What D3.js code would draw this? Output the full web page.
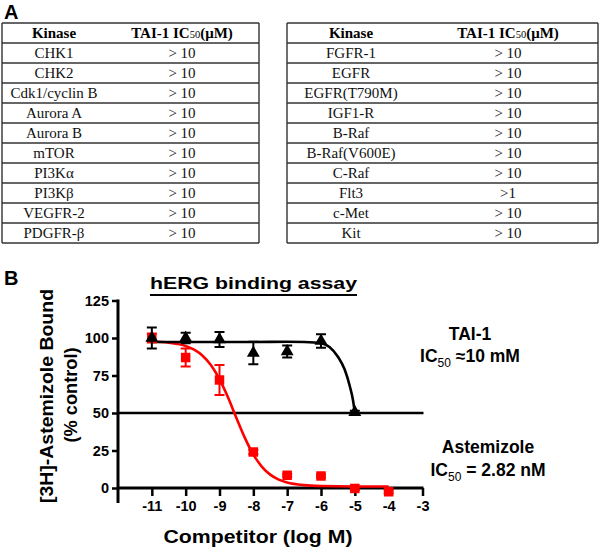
<!DOCTYPE html>
<html><head><meta charset="utf-8">
<script src="https://cdn.jsdelivr.net/npm/d3@7"></script>
<style>body{margin:0;background:#fff}svg{display:block}</style>
</head><body>
<svg id="c" width="600" height="550"></svg>
<script>
// ---------- DATA ----------
const kinasesLeft = ["CHK1","CHK2","Cdk1/cyclin B","Aurora A","Aurora B","mTOR","PI3Kα","PI3Kβ","VEGFR-2","PDGFR-β"];
const ic50Left = ["> 10","> 10","> 10","> 10","> 10","> 10","> 10","> 10","> 10","> 10"];
const kinasesRight = ["FGFR-1","EGFR","EGFR(T790M)","IGF1-R","B-Raf","B-Raf(V600E)","C-Raf","Flt3","c-Met","Kit"];
const ic50Right = ["> 10","> 10","> 10","> 10","> 10","> 10","> 10",">1","> 10","> 10"];

const xTicks = [-11,-10,-9,-8,-7,-6,-5,-4,-3];
const yTicks = [0,25,50,75,100,125];

const taiX = [-11,-10,-9,-8,-7,-6,-5];
const taiY = [100,100,99,90,91,98,50.5];
const taiErr = [7,3.5,5,7.5,4,4.5,1];
const astX = [-11,-10,-9,-8,-7,-6,-5,-4];
const astY = [100,87,72,24,8.5,8,-0.3,-2.5];
const astErr = [3,6,10,1.5,1,1,1,1];

// fitted curves
const taiFitX = [-11,-10,-9,-8,-7,-6.5,-6,-5.75,-5.5,-5.3,-5.15,-5.05,-5];
const taiFitY = [97.3,97.3,97.3,97.3,97.5,97.3,96.5,94,87.5,79,68,58,50];
const astFitX = [-11,-10.5,-10,-9.75,-9.5,-9.25,-9,-8.75,-8.5,-8.25,-8,-7.75,-7.5,-7.25,-7,-6.5,-6,-5,-4];
const astFitY = [97.7,96.9,94.7,92.2,88.2,81.9,72.6,60.5,46.7,33.4,22.3,14.3,8.9,5.6,3.7,1.9,1.3,1.0,1.0];

// ---------- DRAW ----------
const svg = d3.select("#c");
const sans = "'Liberation Sans', Arial, sans-serif";
const serif = "'Liberation Serif', 'Times New Roman', serif";

// Panel labels
svg.append("text").attr("x",4).attr("y",19).attr("font-family",sans).attr("font-weight","bold")
  .attr("font-size",20).text("A");
svg.append("text").attr("x",4).attr("y",285).attr("font-family",sans).attr("font-weight","bold")
  .attr("font-size",20).text("B");

// Tables
function drawTable(x0, x1, cKin, cIc, kin, ic) {
  const top = 23, rh = 20, n = kin.length + 1;
  const g = svg.append("g");
  const rows = d3.range(n + 1);
  g.selectAll("line.h").data(rows).join("line")
    .attr("x1",x0).attr("x2",x1).attr("y1",d=>top+d*rh).attr("y2",d=>top+d*rh)
    .attr("stroke","#333").attr("stroke-width",1.4);
  [x0,x1].forEach(x=>g.append("line").attr("x1",x).attr("x2",x).attr("y1",top).attr("y2",top+(n)*rh)
    .attr("stroke","#333").attr("stroke-width",1.4));
  g.append("text").attr("x",cKin).attr("y",top+15).attr("text-anchor","middle")
    .attr("font-family",serif).attr("font-weight","bold").attr("font-size",15).text("Kinase");
  const h = g.append("text").attr("x",cIc).attr("y",top+15).attr("text-anchor","middle")
    .attr("font-family",serif).attr("font-weight","bold").attr("font-size",15);
  h.append("tspan").text("TAI-1 IC");
  h.append("tspan").attr("font-size",10.5).attr("font-weight","normal").text("50");
  h.append("tspan").text("(μM)");
  g.selectAll("text.k").data(kin).join("text").attr("class","k")
    .attr("x",cKin).attr("y",(d,i)=>top+rh*(i+1)+15).attr("text-anchor","middle")
    .attr("font-family",serif).attr("font-size",15).attr("fill","#111").text(d=>d);
  g.selectAll("text.v").data(ic).join("text").attr("class","v")
    .attr("x",cIc).attr("y",(d,i)=>top+rh*(i+1)+15).attr("text-anchor","middle")
    .attr("font-family",serif).attr("font-size",15).attr("fill","#111").text(d=>d);
}
drawTable(2, 259, 54, 182, kinasesLeft, ic50Left);
drawTable(287, 598, 351, 508, kinasesRight, ic50Right);

// Chart
const x = d3.scaleLinear().domain([-12,-3]).range([118,422.5]);
const y = d3.scaleLinear().domain([0,125]).range([488,300.5]);

svg.append("text").attr("x",150).attr("y",289).attr("font-family",sans).attr("font-weight","bold")
  .attr("font-size",17).attr("textLength",207).attr("lengthAdjust","spacingAndGlyphs")
  .text("hERG binding assay");
svg.append("line").attr("x1",150).attr("x2",357).attr("y1",295).attr("y2",295)
  .attr("stroke","#000").attr("stroke-width",1.8);

const yAx = svg.append("g").attr("transform",`translate(${x(-12)},0)`)
  .call(d3.axisLeft(y).tickValues(yTicks).tickSize(6).tickPadding(3));
const xAx = svg.append("g").attr("transform",`translate(0,${y(0)})`)
  .call(d3.axisBottom(x).tickValues(xTicks).tickSize(8).tickPadding(5).tickFormat(d3.format("d")));
[yAx,xAx].forEach(a=>{
  a.select(".domain").remove();
  a.selectAll(".tick line").attr("stroke","#000").attr("stroke-width",2.5);
  a.selectAll(".tick text").attr("font-family",sans).attr("font-weight","bold").attr("font-size",14.5).attr("fill","#000");
});
xAx.selectAll(".tick text").text(d=>"-"+Math.abs(d));
svg.append("line").attr("x1",x(-12)).attr("x2",x(-12)).attr("y1",y(125)-1).attr("y2",503)
  .attr("stroke","#000").attr("stroke-width",3);
svg.append("line").attr("x1",x(-12)).attr("x2",x(-3)+1).attr("y1",y(0)).attr("y2",y(0))
  .attr("stroke","#000").attr("stroke-width",3);
svg.append("line").attr("x1",x(-12)).attr("x2",x(-3)+1).attr("y1",y(50)).attr("y2",y(50))
  .attr("stroke","#000").attr("stroke-width",2.5);

svg.append("text").attr("transform","translate(53,396) rotate(-90)").attr("text-anchor","middle")
  .attr("font-family",sans).attr("font-weight","bold").attr("font-size",17.5)
  .attr("textLength",214).attr("lengthAdjust","spacingAndGlyphs").text("[3H]-Astemizole Bound");
svg.append("text").attr("transform","translate(77,395) rotate(-90)").attr("text-anchor","middle")
  .attr("font-family",sans).attr("font-weight","bold").attr("font-size",17.5)
  .attr("textLength",95).attr("lengthAdjust","spacingAndGlyphs").text("(% control)");
svg.append("text").attr("x",258).attr("y",543).attr("text-anchor","middle")
  .attr("font-family",sans).attr("font-weight","bold").attr("font-size",19)
  .attr("textLength",189).attr("lengthAdjust","spacingAndGlyphs").text("Competitor (log M)");

const line = d3.line().x(d=>x(d[0])).y(d=>y(d[1])).curve(d3.curveMonotoneX);
svg.append("path").datum(d3.zip(astFitX, astFitY)).attr("d",line)
  .attr("fill","none").attr("stroke","#ff0000").attr("stroke-width",2.6);
svg.append("path").datum(d3.zip(taiFitX, taiFitY)).attr("d",line)
  .attr("fill","none").attr("stroke","#000").attr("stroke-width",2.6);

function drawSeries(xs, ys, es, color, sym, size) {
  const g = svg.append("g");
  const data = xs.map((v,i)=>({x:v,y:ys[i],e:es[i]}));
  const cw = 5;
  data.forEach(d=>{
    g.append("line").attr("x1",x(d.x)).attr("x2",x(d.x)).attr("y1",y(d.y-d.e)).attr("y2",y(d.y+d.e))
      .attr("stroke",color).attr("stroke-width",2);
    [d.y-d.e,d.y+d.e].forEach(v=>g.append("line").attr("x1",x(d.x)-cw).attr("x2",x(d.x)+cw)
      .attr("y1",y(v)).attr("y2",y(v)).attr("stroke",color).attr("stroke-width",2));
  });
  g.selectAll("path").data(data).join("path")
    .attr("d",d3.symbol().type(sym).size(size))
    .attr("transform",d=>`translate(${x(d.x)},${y(d.y)})`).attr("fill",color);
}
drawSeries(astX, astY, astErr, "#ff0000", d3.symbolSquare, 90);
drawSeries(taiX, taiY, taiErr, "#000", d3.symbolTriangle, 72);

function ann(cx, yb, main, sub, rest, fs) {
  const t = svg.append("text").attr("x",cx).attr("y",yb).attr("text-anchor","middle")
    .attr("font-family",sans).attr("font-weight","bold").attr("font-size",fs);
  t.append("tspan").text(main);
  if (sub) {
    t.append("tspan").attr("font-size",12).attr("font-weight","normal").attr("dy",5).text(sub);
    t.append("tspan").attr("dy",-5).text(rest);
  }
}
ann(470, 340, "TAI-1", null, null, 17.5);
ann(470, 362, "IC", "50", " ≈10  mM", 17.5);
ann(488, 453, "Astemizole", null, null, 17.5);
ann(488, 476, "IC", "50", " = 2.82 nM", 17.5);
</script>
</body></html>
